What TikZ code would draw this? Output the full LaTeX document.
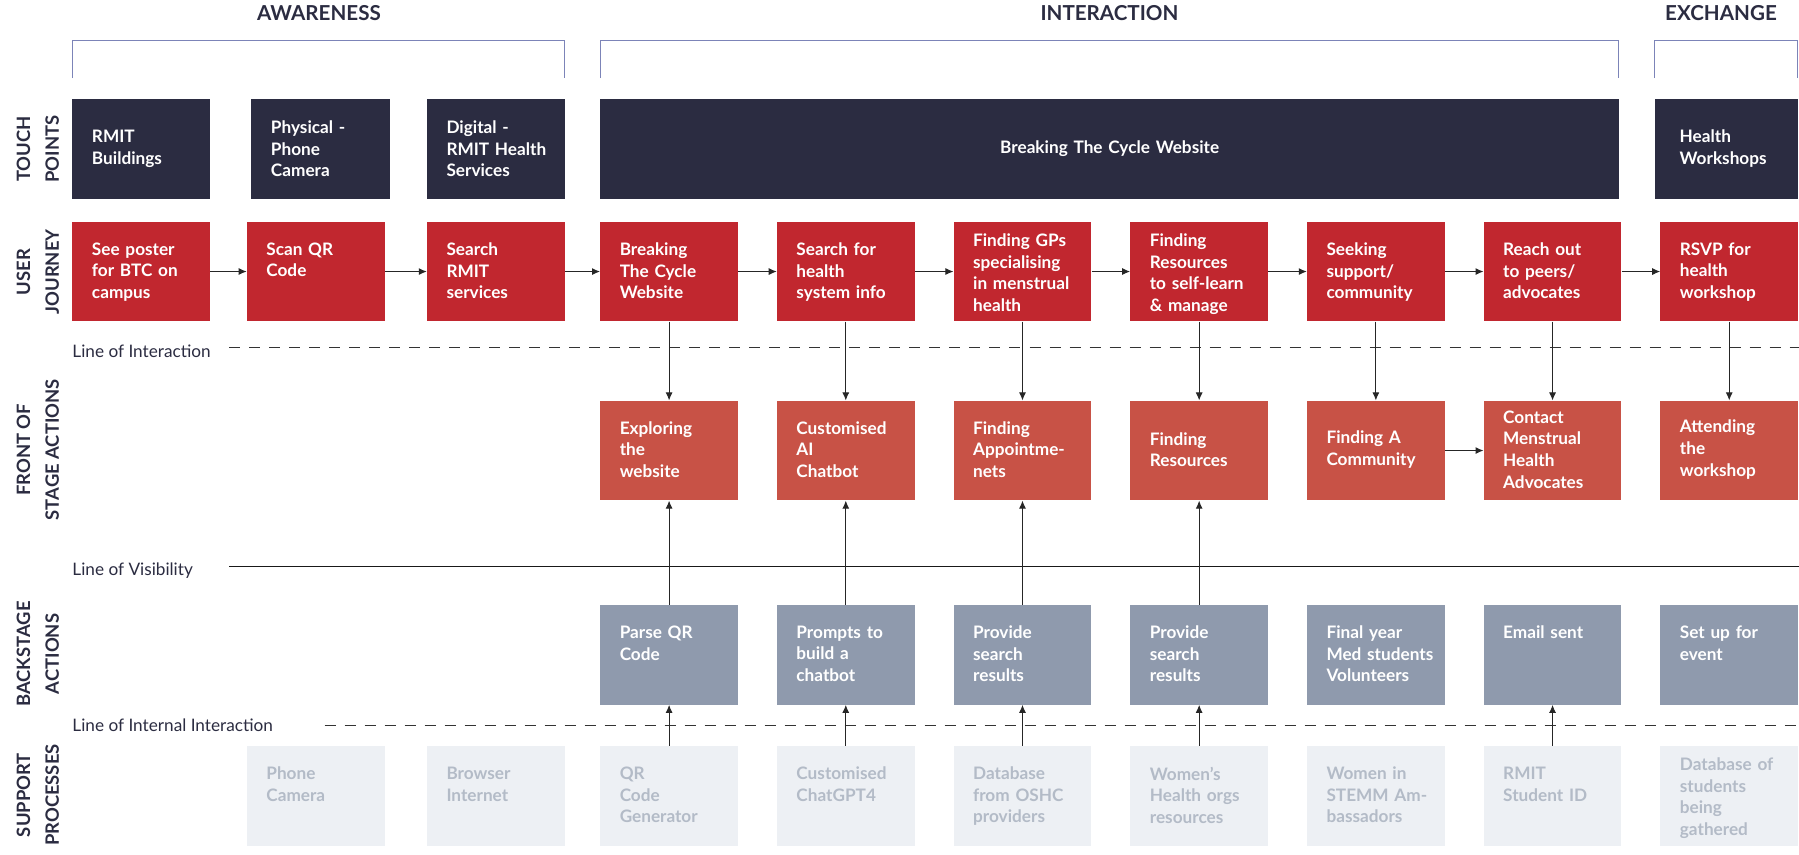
\documentclass[tikz,border=0pt]{standalone}
\usepackage{fontspec}
\setmainfont{Lato}
\usetikzlibrary{arrows.meta}
\definecolor{navy}{HTML}{2B2C41}
\definecolor{ujred}{HTML}{C1272F}
\definecolor{fsred}{HTML}{C85246}
\definecolor{bsgray}{HTML}{8F9AAD}
\definecolor{spbg}{HTML}{EDF0F4}
\definecolor{sptx}{HTML}{B3BBC7}
\definecolor{brk}{HTML}{7C84B8}
\begin{document}
\begin{tikzpicture}[x=1.1473pt,y=-1.1473pt,
  box/.style={draw=none,minimum width=137.7pt,minimum height=99.8pt,inner sep=0pt,anchor=north west},
  txt/.style={text=white,font=\bfseries\fontsize{17.2}{21.6}\selectfont,align=left,inner sep=0pt,text width=118pt},
  arr/.style={-{Latex[length=8pt,width=7pt]},line width=1pt,black!85},
  rowlab/.style={rotate=90,font=\bfseries\fontsize{18.4}{28.7}\selectfont,text=navy,align=center},
  head/.style={font=\bfseries\fontsize{20.6}{23}\selectfont,text=navy},
  linelab/.style={font=\fontsize{17.2}{20}\selectfont,text=navy,anchor=west,inner sep=0pt}]
\useasboundingbox (0,0) rectangle (1568,745.2);
\fill[white] (0,0) rectangle (1568,745.2);
% headers
\node[head] (hA) at (278,11) {AWARENESS};
\node[head] (hI) at (967,11) {INTERACTION};
\node[head] (hE) at (1500,11) {EXCHANGE};
\draw[brk,line width=1.1pt] (63,68)--(63,35)--(492,35)--(492,68);
\draw[brk,line width=1.1pt] (523,68)--(523,35)--(1411,35)--(1411,68);
\draw[brk,line width=1.1pt] (1442,68)--(1442,35)--(1567,35)--(1567,68);
% row labels
\node[rowlab] (rTP) at (33,130) {TOUCH\\POINTS};
\node[rowlab] (rUJ) at (33,237) {USER\\JOURNEY};
\node[rowlab] (rFS) at (33,392) {FRONT OF\\STAGE ACTIONS};
\node[rowlab] (rBS) at (33,570) {BACKSTAGE\\ACTIONS};
\node[rowlab] (rSP) at (33,693) {SUPPORT\\PROCESSES};
% lines
\node[linelab] (lI) at (63,306) {Line of Interaction};
\draw[black!80,line width=1pt,dash pattern=on 11pt off 9pt] (200,303)--(1568,303);
\node[linelab] (lV) at (63,497) {Line of Visibility};
\draw[black!90,line width=1pt] (200,494)--(1568,494);
\node[linelab] (lN) at (63,632) {Line of Internal Interaction};
\draw[black!80,line width=1pt,dash pattern=on 11pt off 9pt] (283,632)--(1568,632);
% touch points
\node[box,fill=navy] (t0) at (63,86) {};
\node[txt,anchor=west] at ([xshift=19.5pt]t0.west) {RMIT\\Buildings};
\node[box,fill=navy,minimum width=138.8pt] (t1) at (219,86) {};
\node[txt,anchor=west] at ([xshift=19.5pt]t1.west) {Physical -\\Phone\\Camera};
\node[box,fill=navy] (t2) at (372,86) {};
\node[txt,anchor=west] at ([xshift=19.5pt]t2.west) {Digital -\\RMIT Health\\Services};
\node[box,fill=navy,minimum width=1018.8pt] (t3) at (523,86) {};
\node[txt,anchor=center,align=center,text width=340pt] at (t3.center) {Breaking The Cycle Website};
\node[box,fill=navy,minimum width=143.4pt] (t9) at (1442,86) {};
\node[txt,anchor=west] at ([xshift=25pt]t9.west) {Health\\Workshops};
% user journey
\foreach \n/\x/\dy/\t in {0/63/21/{See poster\\for BTC on\\campus},1/215/21/{Scan QR\\Code},2/372/21/{Search\\RMIT\\services},3/523/21/{Breaking\\The Cycle\\Website},4/677/21/{Search for\\health\\system info},5/831/12/{Finding GPs\\specialising\\in menstrual\\health},6/985/12/{Finding\\Resources\\to self-learn\\\& manage},7/1139/21/{Seeking\\support/\\community},8/1293/21/{Reach out\\to peers/\\advocates},9/1447/21/{RSVP for\\health\\workshop}}{
  \node[box,fill=ujred] (u\n) at (\x,193) {};
  \node[txt,anchor=north west] at ([xshift=19.5pt,yshift=-\dy pt]u\n.north west) {\t};
}
\foreach \a/\b in {0/1,1/2,2/3,3/4,4/5,5/6,6/7,7/8,8/9}{
  \draw[arr] (u\a.east) -- (u\b.west);
}
% front of stage
\foreach \n/\x/\t in {3/523/{Exploring\\the\\website},4/677/{Customised\\AI\\Chatbot},5/831/{Finding\\Appointme-\\nets},6/985/{Finding\\Resources},7/1139/{Finding A\\Community},8/1293/{Contact\\Menstrual\\Health\\Advocates},9/1447/{Attending\\the\\workshop}}{
  \node[box,fill=fsred] (f\n) at (\x,349) {};
  \node[txt,anchor=west] at ([xshift=19.5pt,yshift=1pt]f\n.west) {\t};
  \draw[arr] (u\n.south) -- (f\n.north);
}
\draw[arr] (f7.east) -- (f8.west);
% backstage
\foreach \n/\x/\t in {3/523/{Parse QR\\Code},4/677/{Prompts to\\build a\\chatbot},5/831/{Provide\\search\\results},6/985/{Provide\\search\\results},7/1139/{Final year\\Med students\\Volunteers},8/1293/{Email sent},9/1447/{Set up for\\event}}{
  \node[box,fill=bsgray] (b\n) at (\x,527) {};
  \node[txt,anchor=north west] at ([xshift=19.5pt,yshift=-21pt]b\n.north west) {\t};
}
\foreach \n in {3,4,5,6}{\draw[arr] (b\n.north) -- (f\n.south);}
% support
\foreach \n/\x/\dy/\t in {1/215/21/{Phone\\Camera},2/372/21/{Browser\\Internet},3/523/21/{QR\\Code\\Generator},4/677/21/{Customised\\ChatGPT4},5/831/21/{Database\\from OSHC\\providers},6/985/21/{Women's\\Health orgs\\resources},7/1139/21/{Women in\\STEMM Am-\\bassadors},8/1293/21/{RMIT\\Student ID},9/1447/12/{Database of\\students\\being\\gathered}}{
  \node[box,fill=spbg] (s\n) at (\x,650) {};
  \node[txt,text=sptx,anchor=north west] at ([xshift=19.5pt,yshift=-\dy pt]s\n.north west) {\t};
}
\foreach \n in {3,4,5,6,8}{\draw[arr] (s\n.north) -- (b\n.south);}
\end{tikzpicture}
\end{document}
